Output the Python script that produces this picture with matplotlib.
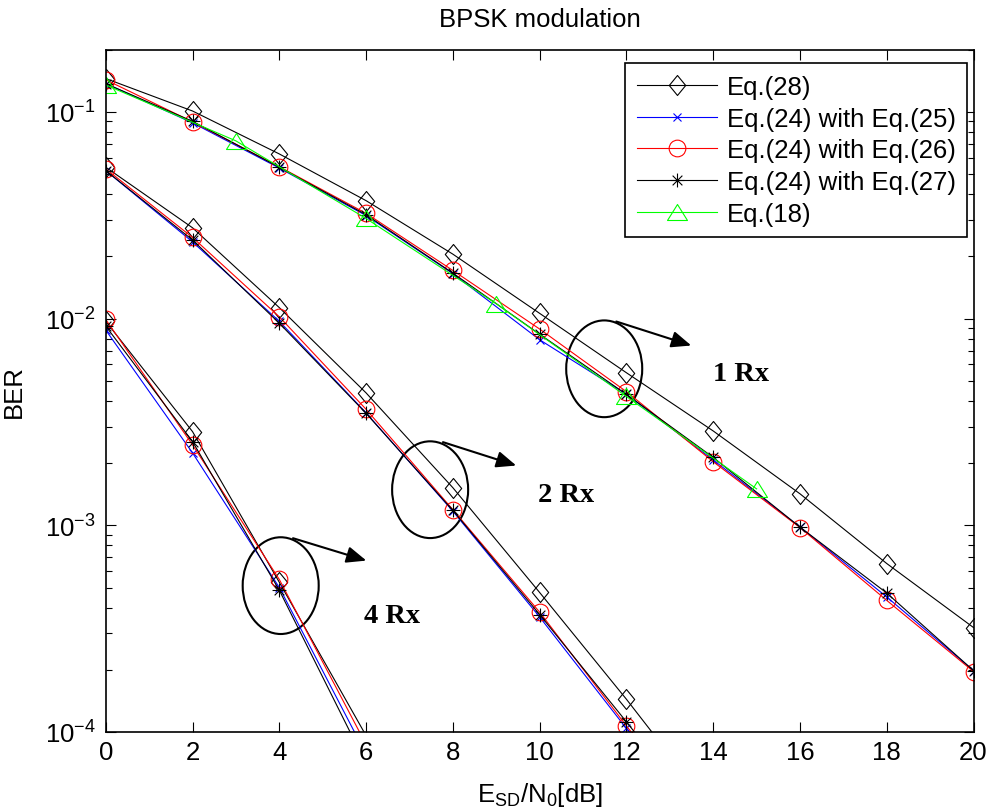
"""
BPSK modulation: BER versus E_SD/N0 for 1, 2 and 4 receive antennas.
"""

import matplotlib
matplotlib.use("Agg")
import matplotlib.pyplot as plt
from matplotlib.path import Path
from matplotlib.patches import Ellipse


# x positions (dB)
X_1RX = [0, 2, 4, 6, 8, 10, 12, 14, 16, 18, 20]
X_2RX = [0, 2, 4, 6, 8, 10, 12, 14]
X_4RX = [0, 2, 4, 6]
X_EQ18 = [0, 3, 6, 9, 12, 15]

# 1 Rx
EQ28_1RX = [0.145, 0.101, 0.0626, 0.0372, 0.0205, 0.0106, 0.00547, 0.00286, 0.00142, 0.000653, 0.000320]
EQ25_1RX = [0.137, 0.0885, 0.0535, 0.0315, 0.0165, 0.0079, 0.0043, 0.00207, 0.00098, 0.00045, 0.000198]
EQ26_1RX = [0.143, 0.0895, 0.0543, 0.0323, 0.0171, 0.0089, 0.00443, 0.00203, 0.000975, 0.000433, 0.000196]
EQ27_1RX = [0.137, 0.0900, 0.0540, 0.0318, 0.0166, 0.0084, 0.0043, 0.00213, 0.00098, 0.00047, 0.000198]
EQ18_1RX = [0.135, 0.0724, 0.0305, 0.0118, 0.0042, 0.00150]

# 2 Rx
EQ28_2RX = [0.054, 0.0275, 0.0113, 0.00437, 0.00152, 0.000473, 0.000144, 0.0000415]
EQ25_2RX = [0.052, 0.0235, 0.0097, 0.0035, 0.00117, 0.00036, 0.000104, 0.000030]
EQ26_2RX = [0.053, 0.0247, 0.0102, 0.00364, 0.00119, 0.00038, 0.000107, 0.000031]
EQ27_2RX = [0.052, 0.0240, 0.0095, 0.00348, 0.00118, 0.00037, 0.000112, 0.000033]

# 4 Rx
EQ28_4RX = [0.0097, 0.00284, 0.00053, 0.000096]
EQ25_4RX = [0.0088, 0.00224, 0.00050, 0.000078]
EQ26_4RX = [0.0099, 0.00245, 0.000547, 0.000087]
EQ27_4RX = [0.0092, 0.00254, 0.000485, 0.000070]

LABELS = ["Eq.(28)", "Eq.(24) with Eq.(25)", "Eq.(24) with Eq.(26)",
          "Eq.(24) with Eq.(27)", "Eq.(18)"]

Y_MIN, Y_MAX = 1e-4, 0.2

plt.rcParams["font.family"] = ["Liberation Sans", "DejaVu Sans"]
plt.rcParams["mathtext.fontset"] = "custom"
plt.rcParams["mathtext.rm"] = "Liberation Sans"
plt.rcParams["mathtext.it"] = "Liberation Sans:italic"
plt.rcParams["mathtext.default"] = "regular"

FS = 18.5

# MATLAB-like markers
DIAMOND = Path([(0, 1), (0.82, 0), (0, -1), (-0.82, 0), (0, 1)],
               [Path.MOVETO, Path.LINETO, Path.LINETO, Path.LINETO, Path.CLOSEPOLY])
TRIANGLE = Path([(0, 0.8), (1, -0.8), (-1, -0.8), (0, 0.8)],
                [Path.MOVETO, Path.LINETO, Path.LINETO, Path.CLOSEPOLY])
ASTERISK = Path([(-1, 0), (1, 0), (0, -1), (0, 1),
                 (-0.7, -0.7), (0.7, 0.7), (-0.7, 0.7), (0.7, -0.7)],
                [Path.MOVETO, Path.LINETO] * 4)

STYLES = [
    dict(color="k", marker=DIAMOND, ms=14.4),
    dict(color="b", marker="x", ms=6),
    dict(color="r", marker="o", ms=12),
    dict(color="k", marker=ASTERISK, ms=10),
    dict(color=(0, 1, 0), marker=TRIANGLE, ms=14.4),
]


def draw(ax, x, y, style, label=None):
    # markers of points outside the axes are hidden, as MATLAB does
    mask = [v >= Y_MIN for v in y]
    ax.plot(x, y, color=style["color"], marker=style["marker"], ms=style["ms"],
            lw=0.8, mew=0.8, mfc="none", markevery=mask, label=label)


fig = plt.figure(figsize=(9.91, 8.12), dpi=100)
ax = fig.add_axes([0.1067, 0.0973, 0.8757, 0.8403])

groups = [
    (X_1RX, [EQ28_1RX, EQ25_1RX, EQ26_1RX, EQ27_1RX], True),
    (X_2RX, [EQ28_2RX, EQ25_2RX, EQ26_2RX, EQ27_2RX], False),
    (X_4RX, [EQ28_4RX, EQ25_4RX, EQ26_4RX, EQ27_4RX], False),
]
for x, series, labelled in groups:
    for i, y in enumerate(series):
        draw(ax, x, y, STYLES[i], LABELS[i] if labelled else None)
draw(ax, X_EQ18, EQ18_1RX, STYLES[4], LABELS[4])

ax.set_yscale("log")
ax.set_xlim(0, 20)
ax.set_ylim(Y_MIN, Y_MAX)
ax.set_xticks(range(0, 21, 2))

ax.tick_params(which="both", direction="in", top=True, right=True,
               labelsize=FS, width=0.8)
ax.tick_params(axis="x", which="major", length=7, pad=6)
ax.tick_params(axis="y", which="major", length=7, pad=7)
ax.tick_params(which="minor", length=4)
for sp in ax.spines.values():
    sp.set_linewidth(1.2)

ax.set_title("BPSK modulation", fontsize=FS, pad=17)
ax.set_xlabel("E$_{SD}$/N$_{0}$[dB]", fontsize=FS, labelpad=11)
ax.set_ylabel("BER", fontsize=FS, labelpad=14)

leg = ax.legend(loc="upper right", bbox_to_anchor=(0.993, 0.980),
                borderaxespad=0, fontsize=FS, fancybox=False, framealpha=1,
                edgecolor="k", handlelength=3.1, handletextpad=0.4,
                labelspacing=0.3, borderpad=0.45, numpoints=1)
leg.get_frame().set_linewidth(1.2)

# ellipses, arrows and labels (axes fraction coordinates)
ANNOT = [
    ((0.5744, 0.5323), (0.5883, 0.6016), (0.6747, 0.5664), (0.7321, 0.5249), "1 Rx"),
    ((0.3738, 0.3551), (0.3886, 0.4248), (0.4730, 0.3905), (0.5305, 0.3482), "2 Rx"),
    ((0.2016, 0.2145), (0.2158, 0.2840), (0.3003, 0.2512), (0.3295, 0.1700), "4 Rx"),
]
for centre, start, tip, txt_pos, txt in ANNOT:
    ax.add_patch(Ellipse(centre, 0.0876, 0.1418, transform=ax.transAxes,
                         fill=False, lw=1.5, ec="k"))
    ax.annotate("", xy=tip, xytext=start, xycoords="axes fraction",
                arrowprops=dict(arrowstyle="-|>,head_length=0.6,head_width=0.25",
                                mutation_scale=20, color="k", lw=1.5,
                                shrinkA=0, shrinkB=0))
    ax.text(*txt_pos, txt, transform=ax.transAxes, ha="center", va="center",
            fontsize=20.5, fontweight="bold", family="Liberation Serif")

fig.savefig("out.png", dpi=100)
